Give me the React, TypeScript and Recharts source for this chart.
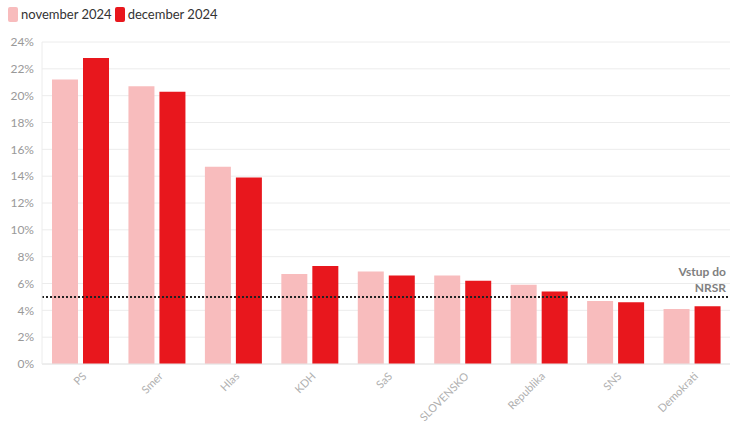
import { BarChart, Bar, XAxis, YAxis, CartesianGrid, ReferenceLine } from 'recharts'

const parties = ['PS', 'Smer', 'Hlas', 'KDH', 'SaS', 'SLOVENSKO', 'Republika', 'SNS', 'Demokrati']
const november2024 = [21.2, 20.7, 14.7, 6.7, 6.9, 6.6, 5.9, 4.7, 4.1]
const december2024 = [22.8, 20.3, 13.9, 7.3, 6.6, 6.2, 5.4, 4.6, 4.3]
const yTicks = [0, 2, 4, 6, 8, 10, 12, 14, 16, 18, 20, 22, 24]
const threshold = 5

const FONT = "Lato, 'Open Sans', sans-serif"
const NOV = '#f8bcbd'
const DEC = '#e8171d'

const data = parties.map((p, i) => ({ party: p, nov: november2024[i], dec: december2024[i] }))

function XTick({ x, y, payload }: any) {
  return (
    <g transform={`translate(${x + 2},${y})`}>
      <text transform="rotate(-45)" textAnchor="end" x={0} y={7} fontSize={11} fill="#b0b0b0" fontFamily={FONT}>
        {payload.value}
      </text>
    </g>
  )
}

function ThresholdLabel({ viewBox }: any) {
  const right = viewBox.x + viewBox.width - 4
  return (
    <g fontFamily={FONT} fontSize={12} fill="#808080" fontWeight={700} textAnchor="end">
      <text x={right} y={viewBox.y - 21}>Vstup do</text>
      <text x={right} y={viewBox.y - 5}>NRSR</text>
    </g>
  )
}

export default function App() {
  return (
    <div style={{ position: 'absolute', left: 0, top: 0, width: 750, height: 422, background: '#fff', fontFamily: FONT, overflow: 'hidden' }}>
      <div style={{ position: 'absolute', left: 8, top: 6, display: 'flex', alignItems: 'center', fontSize: 13, color: '#333' }}>
        <span style={{ width: 10, height: 15, borderRadius: 2, background: NOV, marginRight: 3 }} />
        <span style={{ marginRight: 3 }}>november 2024</span>
        <span style={{ width: 10, height: 15, borderRadius: 2, background: DEC, marginRight: 3 }} />
        <span>december 2024</span>
      </div>
      <BarChart
        width={750}
        height={422}
        data={data}
        barGap={5}
        barCategoryGap={10}
        margin={{ top: 42, right: 20, bottom: 0, left: 0 }}
      >
        <CartesianGrid stroke="#ececec" vertical={false} />
        <XAxis
          dataKey="party"
          height={58}
          tick={<XTick />}
          tickLine={false}
          axisLine={{ stroke: '#e6e6e6' }}
          interval={0}
        />
        <YAxis
          width={42}
          domain={[0, 24]}
          ticks={yTicks}
          tickFormatter={(v: number) => `${v}%`}
          tick={{ fontSize: 12, fill: '#999', fontFamily: FONT }}
          tickLine={false}
          axisLine={{ stroke: '#ececec' }}
        />
        <ReferenceLine y={threshold} stroke="#222" strokeWidth={2} strokeDasharray="2 2" label={<ThresholdLabel />} />
        <Bar dataKey="nov" fill={NOV} isAnimationActive={false} />
        <Bar dataKey="dec" fill={DEC} isAnimationActive={false} />
      </BarChart>
    </div>
  )
}
